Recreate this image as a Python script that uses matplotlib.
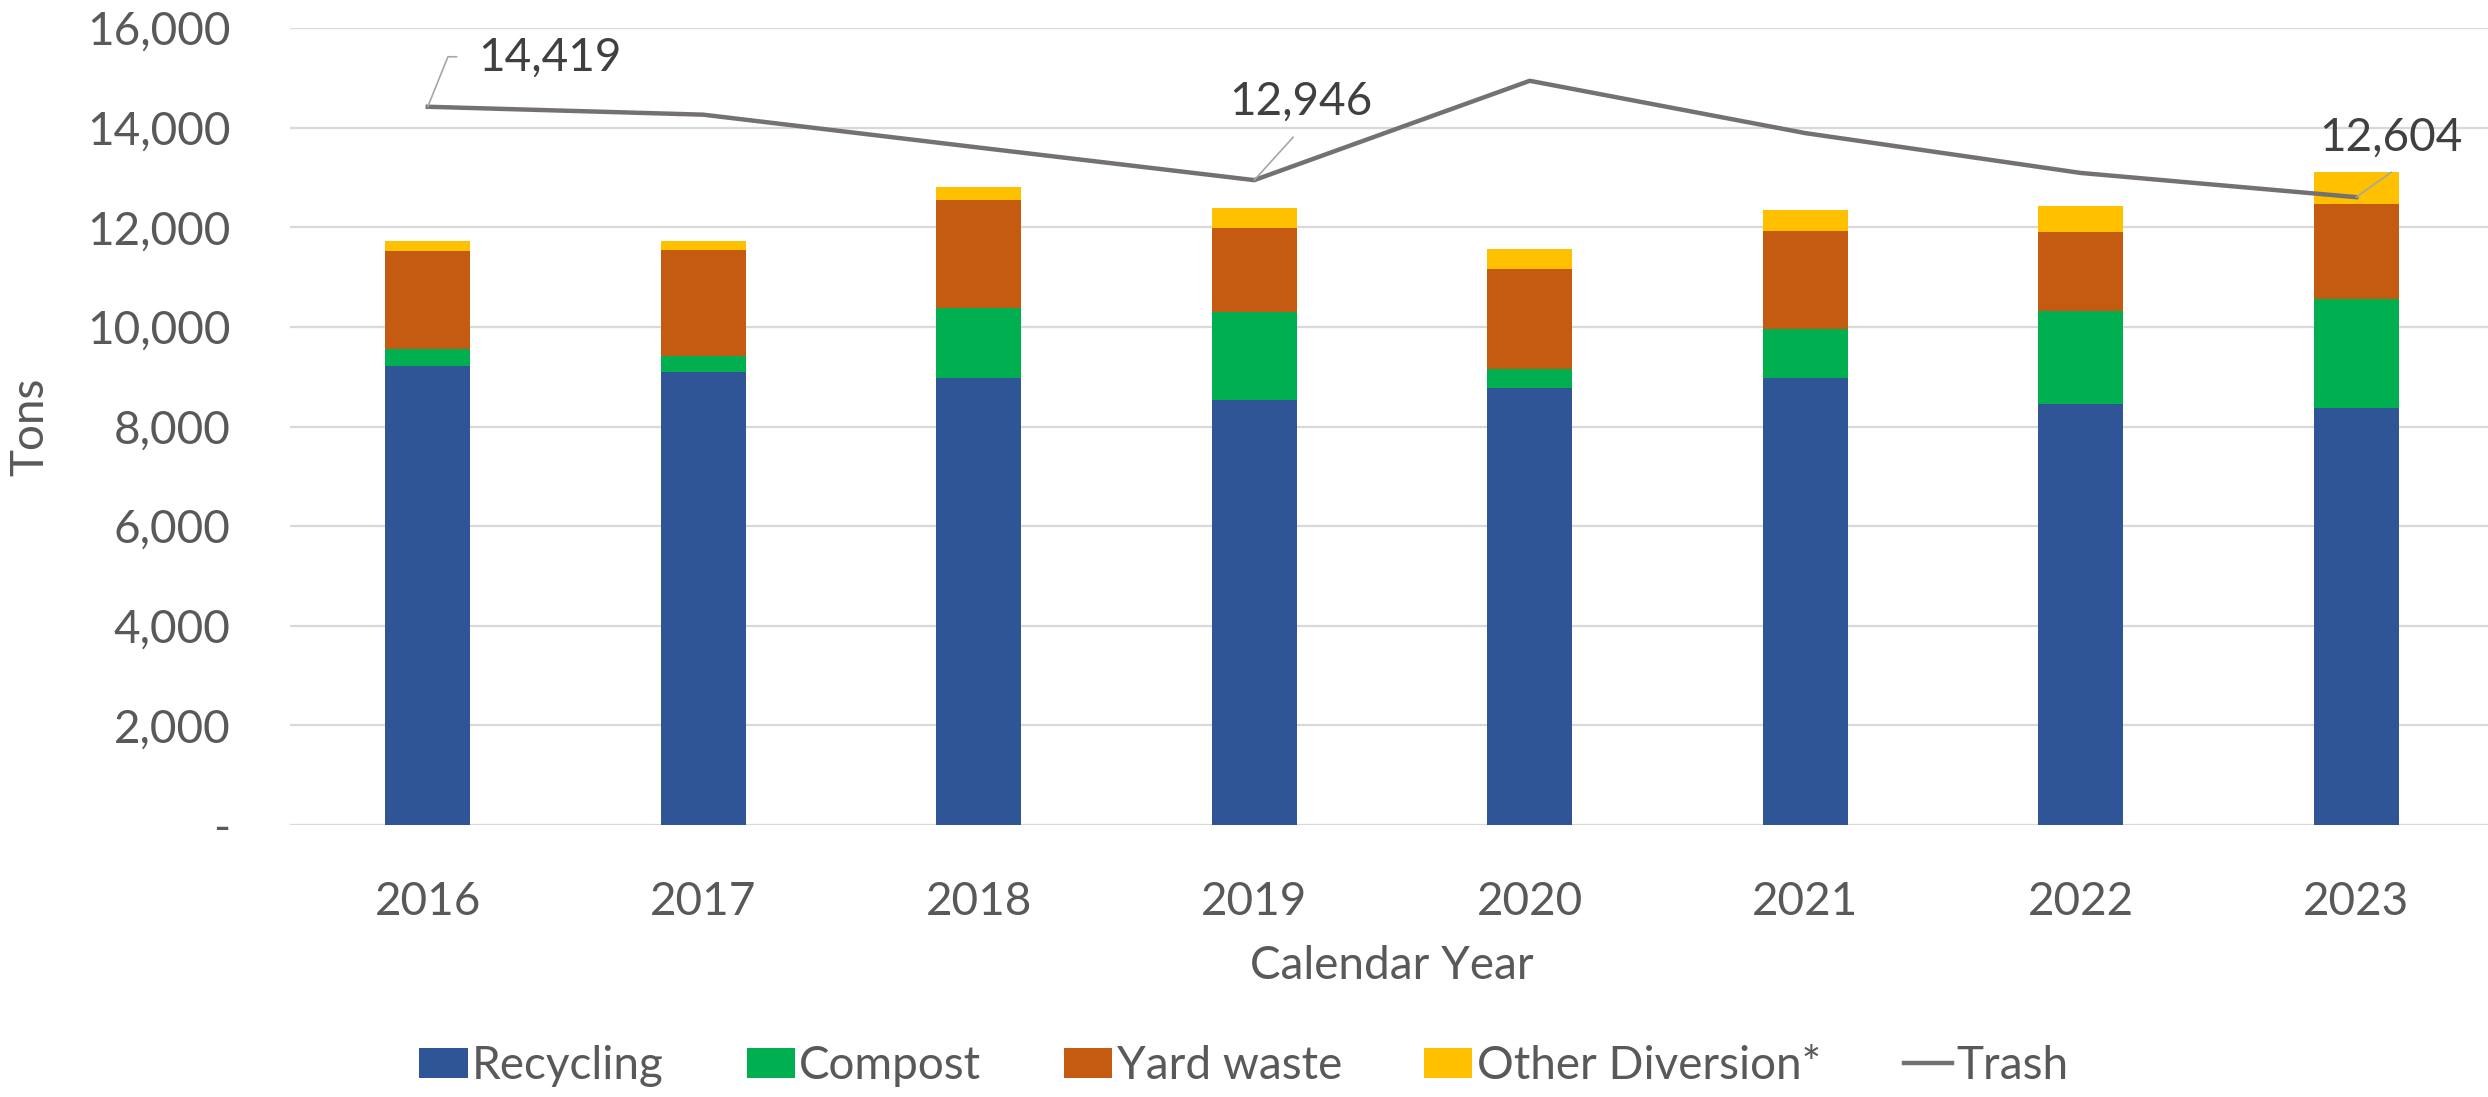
import numpy as np
import matplotlib
matplotlib.use("Agg")
import matplotlib.pyplot as plt

years = ["2016", "2017", "2018", "2019", "2020", "2021", "2022", "2023"]
recycling = [9210, 9090, 8970, 8530, 8770, 8970, 8450, 8370]
compost = [340, 320, 1400, 1770, 390, 985, 1875, 2195]
yard_waste = [1980, 2140, 2170, 1690, 2010, 1960, 1575, 1895]
other_div = [195, 180, 260, 400, 390, 430, 520, 650]
trash = [14419, 14260, 13600, 12946, 14940, 13890, 13090, 12604]

yticks = [0, 2000, 4000, 6000, 8000, 10000, 12000, 14000, 16000]

plt.rcParams['font.family'] = ['Lato', 'DejaVu Sans']
txt_col = "#595959"
fs = 33

fig = plt.figure(figsize=(24.88, 10.97), dpi=100)
ax = fig.add_axes([290/2488, 272/1097, 2204/2488, 797/1097])

x = np.arange(len(years))
w = 0.31
rec = np.array(recycling)
com = np.array(compost)
yard = np.array(yard_waste)
oth = np.array(other_div)
h1 = ax.bar(x, rec, w, color="#2F5597", label="Recycling", zorder=2)
h2 = ax.bar(x, com, w, bottom=rec, color="#00B050", label="Compost", zorder=2)
h3 = ax.bar(x, yard, w, bottom=rec+com, color="#C55A11", label="Yard waste", zorder=2)
h4 = ax.bar(x, oth, w, bottom=rec+com+yard, color="#FFC000", label="Other Diversion*", zorder=2)
h5, = ax.plot(x, trash, color="#767171", lw=3.2, label="Trash", zorder=3)

ax.set_xlim(-0.5, len(years) - 0.5)
ax.set_ylim(0, 16000)
ax.set_yticks(yticks)
ax.set_yticklabels(["-" if v == 0 else f"{v:,}" for v in yticks])
ax.set_xticks(x)
ax.set_xticklabels(years)
ax.tick_params(length=0, labelsize=fs, colors=txt_col)
ax.tick_params(axis="y", pad=43)
ax.tick_params(axis="x", pad=40)
ax.grid(axis="y", color="#D9D9D9", lw=1.6, zorder=0)
for s in ax.spines.values():
    s.set_visible(False)

ax.set_ylabel("Tons", fontsize=fs, color=txt_col, va="center")
ax.yaxis.set_label_coords(-0.118, 0.5)
ax.set_xlabel("Calendar Year", fontsize=fs, color=txt_col, labelpad=16)

# data labels with leader lines (offsets in pixels)
lab_col = "#404040"
lead = dict(arrowstyle="-", color="#A6A6A6", lw=1.2, shrinkA=0, shrinkB=0)
ax.annotate(f"{trash[0]:,}", xy=(0, trash[0]), xytext=(50, 49), textcoords="offset pixels",
            fontsize=fs, color=lab_col, va="center", ha="left")
ax.annotate("", xy=(0, trash[0]), xytext=(29, 50), textcoords="offset pixels",
            arrowprops=dict(lead, connectionstyle="angle,angleA=0,angleB=68,rad=0"))
ax.annotate(f"{trash[3]:,}", xy=(3, trash[3]), xytext=(47, 78), textcoords="offset pixels",
            fontsize=fs, color=lab_col, va="center", ha="center")
ax.annotate("", xy=(3, trash[3]), xytext=(39, 43), textcoords="offset pixels", arrowprops=lead)
ax.annotate(f"{trash[7]:,}", xy=(7, trash[7]), xytext=(35, 59), textcoords="offset pixels",
            fontsize=fs, color=lab_col, va="center", ha="center")
ax.annotate("", xy=(7, trash[7]), xytext=(35, 25), textcoords="offset pixels", arrowprops=lead)

fig.legend(handles=[h1, h2, h3, h4, h5], loc="center", bbox_to_anchor=(0.5, 1 - 1066/1097),
           ncol=5, frameon=False, fontsize=fs, labelcolor=txt_col, handlelength=1.05,
           handleheight=0.65, handletextpad=0.1, columnspacing=1.8)

fig.savefig("out.png", dpi=100)
